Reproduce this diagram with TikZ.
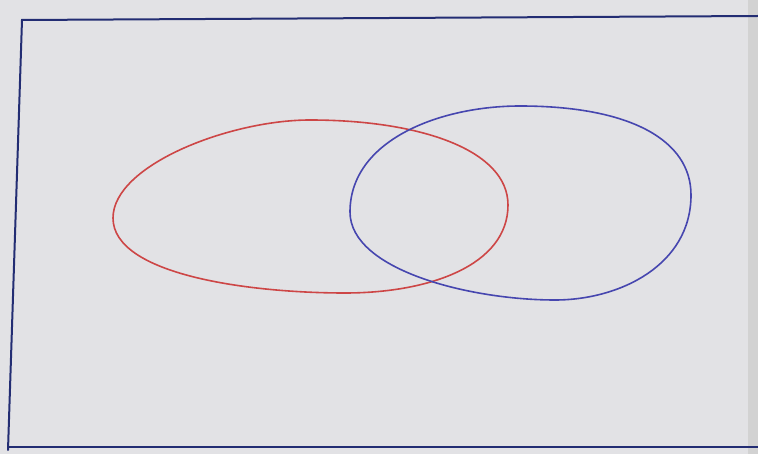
\documentclass[tikz,border=0pt]{standalone}
\definecolor{paper}{RGB}{226,226,229}
\definecolor{inkred}{RGB}{205,70,70}
\definecolor{inkblue}{RGB}{70,70,175}
\definecolor{frame}{RGB}{35,45,115}
\tikzset{
  venn/.style={line width=1.6pt, line join=round},
  framestyle/.style={draw=frame, line width=2pt, line cap=round}
}
\begin{document}
\begin{tikzpicture}[x=1pt,y=-1pt]
\useasboundingbox (0,0) rectangle (758,454);
\fill[paper] (0,0) rectangle (758,454);
\fill[gray!35] (748,0) rectangle (758,454);
\coordinate (tl) at (22,20);
\coordinate (tr) at (758,16);
\coordinate (bl) at (8,450);
\coordinate (bll) at (8,447);
\coordinate (br) at (758,447);
\draw[framestyle] (tr) -- (tl) -- (bl);
\draw[framestyle] (bll) -- (br);
% red set
\draw[venn, draw=inkred] (113,218)
  .. controls (113,165) and (230,120) .. (310,120)
  .. controls (420,120) and (508,150) .. (508,205)
  .. controls (508,265) and (430,293) .. (345,293)
  .. controls (250,293) and (113,275) .. cycle;
% blue set
\draw[venn, draw=inkblue] (350,212)
  .. controls (350,140) and (440,106) .. (520,106)
  .. controls (630,106) and (691,140) .. (691,195)
  .. controls (691,265) and (620,300) .. (555,300)
  .. controls (470,300) and (350,270) .. cycle;
\end{tikzpicture}
\end{document}
